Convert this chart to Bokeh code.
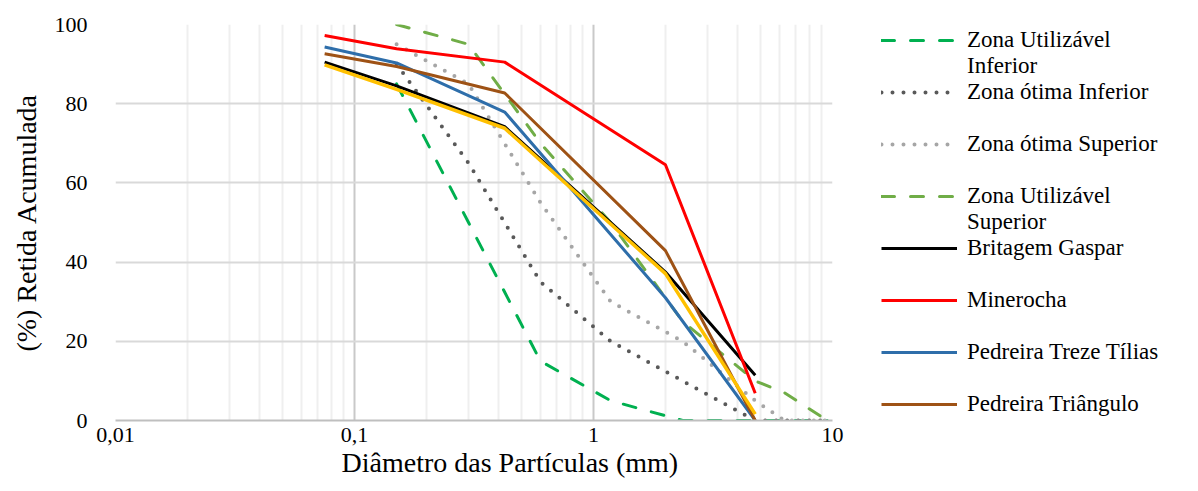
from bokeh.plotting import figure
from bokeh.layouts import row
from bokeh.models import (Range1d, FixedTicker, CustomJSTickFormatter, Legend,
                          LegendItem, Title)
from bokeh.embed import file_html
from bokeh.resources import INLINE

# ---------------- data ----------------
# NBR 7211 grading zones (cumulative % retained) per sieve opening (mm)
sieves_zone = [0.15, 0.3, 0.6, 1.18, 2.36, 4.75, 6.3, 9.5]
zona_util_inf = [85, 50, 15, 5, 0, 0, 0, 0]
zona_otima_inf = [90, 65, 35, 20, 10, 0, 0, 0]
zona_otima_sup = [95, 85, 55, 30, 20, 5, 0, 0]
zona_util_sup = [100, 95, 70, 50, 25, 10, 7, 0]

# quarry samples
sieves_amostra = [0.075, 0.15, 0.425, 2.0, 4.75]
britagem_gaspar = [90.5, 84.5, 74.2, 37.5, 11.4]
minerocha = [97.2, 93.9, 90.5, 64.6, 6.9]
pedreira_treze_tilias = [94.3, 90.3, 77.9, 31.0, 0.0]
pedreira_triangulo = [92.6, 89.4, 82.7, 42.9, 0.0]
amostra_extra = [89.8, 83.6, 73.8, 37.1, 1.6]

x_ticks = [0.01, 0.1, 1, 10]
x_minor = [k * d for d in (0.01, 0.1, 1) for k in range(2, 10)]
y_ticks = [0, 20, 40, 60, 80, 100]

FONT = "Liberation Serif"

styles = {
    "ui": dict(line_color="#00B050", line_width=3, line_dash="13 16", line_cap="round"),
    "oi": dict(line_color="#595959", line_width=4, line_dash="0 11", line_cap="round"),
    "os": dict(line_color="#A6A6A6", line_width=4, line_dash="0 11", line_cap="round"),
    "us": dict(line_color="#70AD47", line_width=3, line_dash="13 16", line_cap="round"),
    "bg": dict(line_color="#000000", line_width=3),
    "mi": dict(line_color="#FF0000", line_width=3),
    "tt": dict(line_color="#2E6EAA", line_width=3),
    "tr": dict(line_color="#9E5215", line_width=3),
    "ex": dict(line_color="#FFC000", line_width=3.5),
}

p = figure(width=878, height=491, x_axis_type="log",
           x_range=Range1d(0.01, 10), y_range=Range1d(0, 100),
           output_backend="svg", toolbar_location=None,
           min_border_left=115, min_border_right=46,
           min_border_top=24, min_border_bottom=71)
p.outline_line_color = None
p.background_fill_color = "white"

# grids
p.xaxis.ticker = FixedTicker(ticks=x_ticks, minor_ticks=x_minor)
p.yaxis.ticker = FixedTicker(ticks=y_ticks)
p.xgrid.grid_line_color = "#c9c9c9"
p.xgrid.grid_line_width = 2
p.xgrid.minor_grid_line_color = "#efefef"
p.xgrid.minor_grid_line_width = 2
p.ygrid.grid_line_color = "#d9d9d9"
p.ygrid.grid_line_width = 2

# axes
for ax in (p.xaxis[0], p.yaxis[0]):
    ax.major_tick_line_color = None
    ax.minor_tick_line_color = None
    ax.major_tick_out = 0
    ax.major_tick_in = 0
    ax.major_label_text_font = FONT
    ax.major_label_text_font_size = "22px"
    ax.major_label_text_color = "#000000"
    ax.axis_label_text_font = FONT
    ax.axis_label_text_font_size = "28px"
    ax.axis_label_text_font_style = "normal"
    ax.axis_label_text_color = "#000000"

p.xaxis.axis_line_color = "#bfbfbf"
p.xaxis.axis_line_width = 2
p.xaxis.major_label_standoff = 3
p.xaxis.formatter = CustomJSTickFormatter(code="return String(tick).replace('.', ',')")
p.yaxis.axis_line_color = None
p.yaxis.major_label_standoff = 28
p.yaxis.axis_label = "(%) Retida Acumulada"
p.yaxis.axis_label_standoff = 10

p.add_layout(Title(text="Diâmetro das Partículas (mm)", align="left", offset=226,
                   text_font=FONT, text_font_size="28px", text_font_style="normal",
                   text_color="#000000", standoff=0), "below")

# zone curves
p.line(sieves_zone, zona_util_inf, **styles["ui"])
p.line(sieves_zone, zona_otima_inf, **styles["oi"])
p.line(sieves_zone, zona_otima_sup, **styles["os"])
p.line(sieves_zone, zona_util_sup, **styles["us"])

# samples
p.line(sieves_amostra, britagem_gaspar, **styles["bg"])
p.line(sieves_amostra, minerocha, **styles["mi"])
p.line(sieves_amostra, pedreira_treze_tilias, **styles["tt"])
p.line(sieves_amostra, pedreira_triangulo, **styles["tr"])
p.line(sieves_amostra, amostra_extra, **styles["ex"])

# ---------------- legend panel ----------------
lg = figure(width=320, height=491, title=None,
            x_range=Range1d(0, 1), y_range=Range1d(0, 1),
            output_backend="svg", toolbar_location=None,
            x_axis_location=None, y_axis_location=None,
            min_border_left=0, min_border_right=0,
            min_border_top=0, min_border_bottom=0)
lg.grid.visible = False
lg.outline_line_color = None

NAN = float("nan")

def proxy(key):
    return lg.line(x=[NAN], y=[NAN], **styles[key])

blank = lg.line(x=[NAN], y=[NAN], line_alpha=0)

items = [
    LegendItem(label="Zona Utilizável", renderers=[proxy("ui")]),
    LegendItem(label="Inferior", renderers=[blank]),
    LegendItem(label="Zona ótima Inferior", renderers=[proxy("oi")]),
    LegendItem(label=" ", renderers=[blank]),
    LegendItem(label="Zona ótima Superior", renderers=[proxy("os")]),
    LegendItem(label=" ", renderers=[blank]),
    LegendItem(label="Zona Utilizável", renderers=[proxy("us")]),
    LegendItem(label="Superior", renderers=[blank]),
    LegendItem(label="Britagem Gaspar", renderers=[proxy("bg")]),
    LegendItem(label=" ", renderers=[blank]),
    LegendItem(label="Minerocha", renderers=[proxy("mi")]),
    LegendItem(label=" ", renderers=[blank]),
    LegendItem(label="Pedreira Treze Tílias", renderers=[proxy("tt")]),
    LegendItem(label=" ", renderers=[blank]),
    LegendItem(label="Pedreira Triângulo", renderers=[proxy("tr")]),
]
legend = Legend(items=items, location="top_left", orientation="vertical",
                padding=0, margin=3, spacing=0, glyph_width=76, glyph_height=26,
                label_height=26, label_standoff=10,
                label_text_font=FONT, label_text_font_size="23px",
                label_text_color="#000000",
                border_line_color=None, background_fill_alpha=0)
lg.add_layout(legend, "center")

layout = row(p, lg)
open("out.html", "w").write(file_html(layout, INLINE))
